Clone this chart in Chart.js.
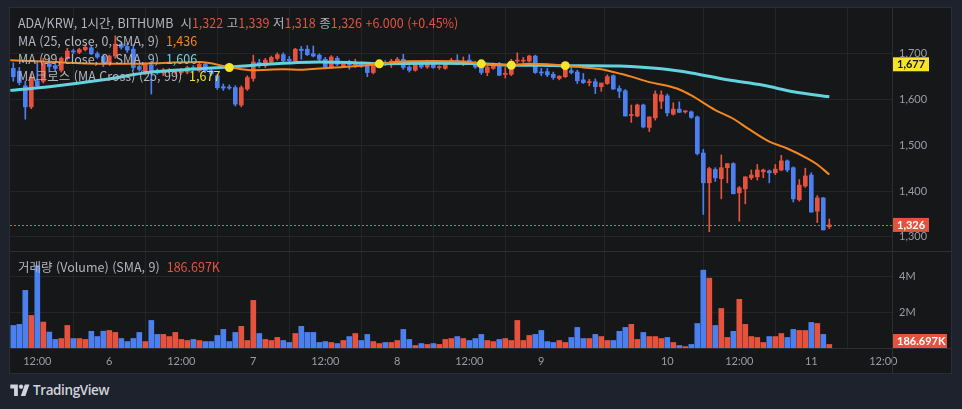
<!DOCTYPE html>
<html lang="ko">
<head>
<meta charset="UTF-8">
<script src="https://cdn.jsdelivr.net/npm/chart.js@4.4.1/dist/chart.umd.min.js"></script>
<style>
  body { margin: 0; width: 962px; height: 409px; overflow: hidden; background: #1e222d; font-family: "Noto Sans CJK KR", "Noto Sans", sans-serif; }
  #panel { position: absolute; left: 9px; top: 7px; width: 943px; height: 367px; background: #161719; border: 1px solid #2a2d35; box-sizing: border-box; }
  canvas { position: absolute; }
  .hl { position: absolute; height: 1px; background: #2c2f36; }
  .vl { position: absolute; width: 1px; background: #2c2f36; }
  .leg { position: absolute; left: 18px; font-size: 12.5px; line-height: 18px; color: #b2b5be; white-space: nowrap; }
  .r { color: #e5533f; }
  #brand { position: absolute; left: 10px; top: 381px; color: #d1d4dc; font-family: "Open Sans", sans-serif; font-size: 13.5px; font-weight: 600; letter-spacing: -0.4px; display: flex; align-items: center; gap: 3px; }
</style>
</head>
<body>
<div id="panel"></div>
<canvas id="price" width="941" height="243" style="left:10px;top:8px"></canvas>
<canvas id="vol" width="941" height="122" style="left:10px;top:251px"></canvas>
<div class="hl" style="left:10px;top:251px;width:941px"></div>
<div class="hl" style="left:10px;top:348px;width:941px"></div>
<div class="vl" style="left:892px;top:8px;height:365px"></div>

<div class="leg" style="top:14px">ADA/KRW, 1시간, BITHUMB &nbsp;시<span class="r">1,322</span> 고<span class="r">1,339</span> 저<span class="r">1,318</span> 종<span class="r">1,326</span> <span class="r">+6.000 (+0.45%)</span></div>
<div class="leg" style="top:32px">MA (25, close, 0, SMA, 9) &nbsp;<span style="color:#f5871f">1,436</span></div>
<div class="leg" style="top:50px">MA (99, close, 0, SMA, 9) &nbsp;<span style="color:#62d3df">1,606</span></div>
<div class="leg" style="top:67px">MA크로스 (MA Cross) (25, 99) &nbsp;<span style="color:#f7e32a">1,677</span></div>
<div class="leg" style="top:258px">거래량 (Volume) (SMA, 9) &nbsp;<span class="r">186.697K</span></div>

<div id="brand"><svg width="20" height="14" viewBox="0 0 36 26"><path d="M14 24H7V10H0V3h14v21z" fill="#d1d4dc"/><circle cx="20" cy="7" r="4" fill="#d1d4dc"/><path d="M28 24h-8.5l7.5-21h8.5z" fill="#d1d4dc"/></svg><span>TradingView</span></div>

<script>
// hourly candles, 5th 08:00 .. 11th 03:00
const opens = [1668,1662,1630,1584,1641,1640,1680,1674,1664,1690,1706,1703,1709,1713,1700,1694,1679,1695,1721,1716,
  1710,1672,1660,1676,1662,1658,1662,1660,1659,1660,1670,1663,1677,1663,1652,1628,1627,1626,1588,1623,
  1646,1681,1674,1682,1690,1698,1688,1685,1710,1710,1700,1697,1688,1671,1690,1674,1678,1676,1678,1673,
  1659,1677,1681,1677,1681,1688,1671,1664,1681,1671,1681,1670,1668,1681,1686,1677,1686,1681,1677,1659,
  1668,1678,1655,1655,1684,1684,1684,1695,1659,1661,1655,1646,1650,1663,1660,1643,1637,1639,1628,1635,
  1652,1624,1619,1565,1564,1588,1539,1560,1596,1608,1568,1579,1573,1573,1562,1483,1418,1447,1427,1451,
  1460,1396,1405,1429,1431,1442,1444,1440,1446,1466,1451,1381,1411,1435,1356,1385,1322];
const highs = [1680,1670,1640,1656,1684,1690,1690,1682,1693,1712,1710,1712,1720,1716,1704,1698,1697,1739,1724,1722,
  1720,1676,1680,1684,1667,1668,1668,1666,1668,1673,1674,1680,1680,1666,1655,1634,1632,1630,1630,1652,
  1697,1688,1690,1695,1702,1702,1694,1712,1716,1718,1717,1700,1692,1696,1694,1680,1686,1688,1680,1676,
  1680,1684,1685,1688,1692,1699,1674,1684,1684,1686,1684,1674,1684,1690,1698,1693,1698,1684,1680,1674,
  1680,1681,1670,1688,1702,1692,1697,1697,1668,1668,1660,1652,1668,1670,1664,1657,1644,1645,1636,1654,
  1654,1630,1622,1588,1590,1590,1562,1619,1619,1612,1593,1595,1576,1575,1564,1491,1452,1451,1479,1460,
  1462,1410,1431,1446,1458,1448,1446,1458,1478,1468,1453,1425,1450,1440,1390,1386,1339];
const lows = [1640,1632,1557,1580,1626,1636,1660,1662,1660,1686,1700,1700,1706,1698,1690,1672,1676,1690,1710,1703,
  1664,1662,1655,1612,1655,1652,1658,1655,1655,1656,1664,1660,1660,1652,1622,1620,1622,1586,1584,1620,
  1640,1670,1670,1678,1686,1682,1682,1682,1688,1696,1693,1685,1668,1668,1674,1670,1666,1670,1670,1650,
  1656,1672,1674,1670,1678,1666,1660,1662,1668,1668,1668,1666,1666,1678,1676,1674,1682,1668,1655,1652,
  1666,1652,1647,1652,1680,1680,1682,1657,1652,1650,1644,1643,1648,1656,1635,1635,1630,1613,1618,1633,
  1622,1604,1564,1550,1562,1538,1530,1555,1580,1564,1566,1571,1570,1559,1479,1349,1311,1421,1383,1418,
  1394,1334,1372,1425,1424,1429,1418,1436,1444,1442,1376,1378,1408,1354,1331,1315,1318];
const closes = [1650,1637,1584,1648,1630,1680,1672,1668,1690,1706,1704,1709,1714,1700,1693,1677,1695,1721,1714,1708,
  1670,1666,1677,1660,1658,1664,1663,1664,1664,1670,1667,1677,1663,1656,1626,1625,1625,1590,1626,1648,
  1682,1674,1686,1692,1698,1685,1685,1710,1707,1698,1695,1688,1671,1693,1677,1678,1676,1677,1673,1659,
  1677,1679,1678,1684,1688,1670,1664,1681,1671,1681,1670,1671,1681,1686,1677,1684,1684,1671,1659,1671,
  1677,1653,1656,1684,1686,1686,1695,1659,1658,1654,1648,1651,1666,1659,1641,1637,1638,1628,1636,1650,
  1623,1618,1564,1566,1588,1540,1562,1612,1610,1571,1579,1572,1574,1561,1482,1418,1449,1429,1451,1460,
  1394,1407,1431,1435,1446,1446,1440,1448,1466,1446,1383,1413,1433,1354,1385,1315,1326];
// volume, millions
const volumes = [1.26,1.32,3.22,1.82,4.6,1.45,0.89,0.48,0.53,1.26,0.53,0.53,0.48,0.93,0.64,0.94,0.98,0.87,0.53,0.36,
  0.53,0.87,0.36,1.54,0.76,0.76,0.64,0.87,0.48,0.42,0.48,0.42,0.36,0.36,0.70,1.04,0.36,0.87,1.21,0.42,
  2.66,0.81,0.48,0.42,0.59,0.42,0.31,0.81,1.21,0.87,0.87,0.31,0.36,0.31,0.25,0.42,0.64,0.81,0.42,0.76,
  0.36,0.25,0.31,0.31,0.42,1.04,0.48,0.14,0.25,0.20,0.25,0.20,0.48,0.53,0.64,0.53,0.42,0.53,0.76,0.42,
  0.36,0.48,0.53,0.42,1.54,0.42,0.70,0.76,0.98,0.36,0.31,0.42,0.31,0.59,1.15,0.53,0.53,0.76,0.64,0.42,
  0.42,0.93,1.15,1.32,0.48,0.87,0.64,0.64,0.53,0.59,0.31,0.14,0.08,0.20,1.37,4.35,3.9,1.26,2.21,0.59,
  0.93,2.72,1.32,0.64,0.59,0.31,0.64,0.64,0.81,0.59,1.04,0.98,0.98,1.43,1.37,0.76,0.20];
// moving averages: [candle index, value]
const ma25 = [[-0.5,1686],[5,1683],[15,1678],[20,1678],[25,1680],[31,1682],[36,1671],[40,1664],[45,1666],[48,1665],
  [51,1668],[55,1671],[59,1675],[61,1678],[65,1683],[70,1684],[76,1682],[78,1678],[80,1676],[83,1675],[86,1678],
  [89,1677],[92,1674],[95,1670],[98,1666],[100,1660],[103,1650],[106,1638],[109,1630],[111,1622],[113,1609],
  [117,1577],[120,1558],[122.4,1537],[126,1508],[129,1493],[132.4,1471],[134,1458],[136,1436]];
const ma99 = [[-0.5,1620],[6,1628],[15,1643],[23,1660],[31,1667],[36,1671],[40,1675],[51,1682],[56,1681],[61,1678],
  [70,1679],[78,1678],[83,1675],[88,1675],[92,1674],[96,1674],[101,1673],[108,1667],[113,1658],[119,1643],
  [125,1631],[130,1617],[136,1606]];
const crossPts = [[36,1670],[61,1678],[78,1678],[83,1675],[92,1674]];
const maCrossLast = 1677;
const volSma = 0.186697;

const priceTicks = [1300, 1400, 1500, 1600, 1700];
const volTicks = [2, 4];
const tickIdx = [4, 16, 28, 40, 52, 64, 76, 88, 109, 121, 133, 145];
const tickText = ['12:00', '6', '12:00', '7', '12:00', '8', '12:00', '9', '10', '12:00', '11', '12:00'];

const UP = '#e5533f', DN = '#4b80ee', GRID = '#232529', TXT = '#9a9da5';
const XMIN = -0.55, XMAX = 146.45;
const idx = opens.map((_, i) => i);
const colors = idx.map(i => closes[i] >= opens[i] ? UP : DN);
const axisFont = { family: 'Lato, "Noto Sans", sans-serif', size: 11 };

function noPad(s) {
  s.paddingTop = 0; s.paddingBottom = 0; s.paddingLeft = 0; s.paddingRight = 0;
}

function xScale(showLabels) {
  return {
    type: 'linear', min: XMIN, max: XMAX, offset: false,
    grid: { color: GRID, drawTicks: false },
    border: { display: false },
    afterBuildTicks: s => { s.ticks = tickIdx.map(v => ({ value: v })); },
    ticks: {
      display: showLabels, color: TXT, font: axisFont, padding: 7, maxRotation: 0, autoSkip: false,
      callback: v => tickText[tickIdx.indexOf(v)]
    },
    afterFit: s => { s.height = showLabels ? 25 : 0; noPad(s); }
  };
}

function yScale(min, max, ticks, fmt) {
  return {
    position: 'right', min, max,
    grid: { color: GRID, drawTicks: false }, border: { display: false },
    afterBuildTicks: s => { s.ticks = ticks.map(v => ({ value: v })); },
    ticks: { color: TXT, font: axisFont, padding: 7, callback: fmt },
    afterFit: s => { s.width = 59; noPad(s); }
  };
}

function tag(ctx, x, y, w, text, bg, fg) {
  ctx.save();
  ctx.fillStyle = bg;
  ctx.fillRect(x, y - 7, w, 14);
  ctx.fillStyle = fg;
  ctx.font = 'bold 11px Lato, sans-serif';
  ctx.textBaseline = 'middle';
  ctx.fillText(text, x + 5, y + 0.5);
  ctx.restore();
}

const priceExtras = {
  id: 'priceExtras',
  beforeDatasetsDraw(chart) {
    const { ctx, chartArea, scales } = chart;
    const y = Math.round(scales.y.getPixelForValue(closes[closes.length - 1])) + 0.5;
    ctx.save();
    ctx.strokeStyle = '#f0553f';
    ctx.lineWidth = 1;
    ctx.setLineDash([2, 2]);
    ctx.beginPath();
    ctx.moveTo(chartArea.left, y);
    ctx.lineTo(chartArea.right, y);
    ctx.stroke();
    ctx.restore();
  },
  afterDraw(chart) {
    const { ctx, chartArea, scales } = chart;
    const yc = scales.y.getPixelForValue(closes[closes.length - 1]);
    const ym = scales.y.getPixelForValue(maCrossLast);
    tag(ctx, chartArea.right, ym, 37, maCrossLast.toLocaleString('en-US'), '#f7e32a', '#131722');
    tag(ctx, chartArea.right, yc, 37, closes[closes.length - 1].toLocaleString('en-US'), UP, '#ffffff');
  }
};

const volExtras = {
  id: 'volExtras',
  afterDraw(chart) {
    const { ctx, chartArea, scales } = chart;
    const y = Math.min(scales.y.getPixelForValue(volSma), chartArea.bottom - 7);
    tag(ctx, chartArea.right, y, 55, (volSma * 1000).toFixed(3) + 'K', UP, '#ffffff');
  }
};

const baseOpts = {
  responsive: false, animation: false, devicePixelRatio: 1,
  layout: { padding: 0, autoPadding: false },
  plugins: { legend: { display: false }, tooltip: { enabled: false } }
};

new Chart(document.getElementById('price'), {
  type: 'bar',
  data: {
    datasets: [
      { type: 'scatter', data: crossPts.map(([x, y]) => ({ x, y })), pointRadius: 4.5, backgroundColor: '#f7e32a', borderWidth: 0, order: 0 },
      { type: 'line', data: ma25.map(([x, y]) => ({ x, y })), borderColor: '#f5871f', borderWidth: 2, pointRadius: 0, cubicInterpolationMode: 'monotone', order: 1 },
      { type: 'line', data: ma99.map(([x, y]) => ({ x, y })), borderColor: '#62d3df', borderWidth: 3, pointRadius: 0, cubicInterpolationMode: 'monotone', order: 1 },
      { data: idx.map(i => ({ x: i, y: [opens[i], closes[i]] })), backgroundColor: colors, barThickness: 4, minBarLength: 1, grouped: false, order: 2 },
      { data: idx.map(i => ({ x: i, y: [lows[i], highs[i]] })), backgroundColor: colors, barThickness: 1, grouped: false, order: 3 }
    ]
  },
  options: {
    ...baseOpts,
    scales: {
      x: xScale(false),
      y: yScale(1269, 1800, priceTicks, v => v.toLocaleString('en-US'))
    }
  },
  plugins: [priceExtras]
});

new Chart(document.getElementById('vol'), {
  type: 'bar',
  data: {
    datasets: [
      { data: idx.map(i => ({ x: i, y: volumes[i] })), backgroundColor: colors, barThickness: 5 }
    ]
  },
  options: {
    ...baseOpts,
    scales: {
      x: xScale(true),
      y: yScale(0, 5.42, volTicks, v => v + 'M')
    }
  },
  plugins: [volExtras]
});
</script>
</body>
</html>
